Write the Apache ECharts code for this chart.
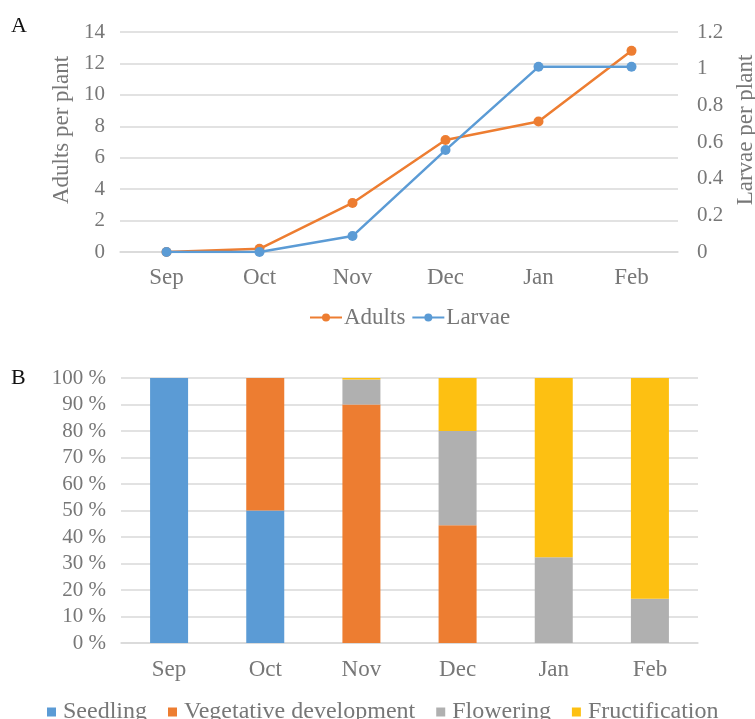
<!DOCTYPE html>
<html>
<head>
<meta charset="utf-8">
<script src="https://cdn.jsdelivr.net/npm/echarts@6/dist/echarts.min.js"></script>
<style>
  html, body { margin: 0; padding: 0; background: #fff; }
  #chart { width: 755px; height: 719px; }
</style>
</head>
<body>
<div id="chart"></div>
<script>
// Months sampled
const months = ['Sep', 'Oct', 'Nov', 'Dec', 'Jan', 'Feb'];

// Panel A: insect density per plant
const adults = [0, 0.2, 3.12, 7.13, 8.3, 12.8];
const larvae = [0, 0, 0.087, 0.556, 1.01, 1.01];

// Panel B: share of plants in each phenological stage (%)
const seedling   = [100, 50, 0, 0, 0, 0];
const vegetative = [0, 50, 90, 44.4, 0, 0];
const flowering  = [0, 0, 9.4, 35.6, 32.4, 16.7];
const fruiting   = [0, 0, 0.6, 20, 67.6, 83.3];

const FONT = 'Liberation Serif';
const TXT = '#777777';
const GRID = '#d9d9d9';
const ORANGE = '#ED7D31', BLUE = '#5B9BD5', GRAY = '#B0B0B0', YELLOW = '#FDC012';

const chart = echarts.init(document.getElementById('chart'), null, { renderer: 'canvas' });

const lineSeries = (name, data, yIdx, color) => ({
  name, type: 'line', data,
  xAxisIndex: 0, yAxisIndex: yIdx,
  symbol: 'circle', symbolSize: 10,
  lineStyle: { color, width: 2.5 },
  itemStyle: { color },
  z: yIdx === 1 ? 3 : 2
});

const barSeries = (name, data, color) => ({
  name, type: 'bar', stack: 'stage', data,
  xAxisIndex: 1, yAxisIndex: 2,
  barWidth: 38,
  itemStyle: { color }
});

chart.setOption({
  animation: false,
  textStyle: { fontFamily: FONT, color: TXT },
  graphic: [
    { type: 'text', left: 11, top: 15, style: { text: 'A', font: '22px "Liberation Serif"', fill: '#111' } },
    { type: 'text', left: 11, top: 367, style: { text: 'B', font: '22px "Liberation Serif"', fill: '#111' } }
  ],
  legend: [
    {
      data: ['Adults', 'Larvae'],
      left: 304, top: 301,
      itemWidth: 32, itemHeight: 10, itemGap: 6,
      textStyle: { fontFamily: FONT, fontSize: 23, color: TXT, padding: [0, 0, 0, -3] }
    },
    {
      data: ['Seedling', 'Vegetative development', 'Flowering', 'Fructification'],
      left: 42, top: 695,
      icon: 'rect', itemWidth: 9, itemHeight: 9, itemGap: 21,
      textStyle: { fontFamily: FONT, fontSize: 24, color: TXT, padding: [0, 0, 0, 2] }
    }
  ],
  grid: [
    { left: 120, right: 77, top: 32, height: 220, outerBoundsMode: 'none' },
    { left: 121, right: 57, top: 378, height: 265, outerBoundsMode: 'none' }
  ],
  xAxis: [
    {
      type: 'category', data: months, gridIndex: 0,
      axisLine: { lineStyle: { color: GRID, width: 1.5 } },
      axisTick: { show: false },
      axisLabel: { fontFamily: FONT, fontSize: 23, color: TXT, margin: 14 }
    },
    {
      type: 'category', data: months, gridIndex: 1,
      axisLine: { lineStyle: { color: GRID, width: 1.5 } },
      axisTick: { show: false },
      axisLabel: { fontFamily: FONT, fontSize: 23, color: TXT, margin: 15 }
    }
  ],
  yAxis: [
    {
      type: 'value', gridIndex: 0, position: 'left',
      min: 0, max: 14, interval: 2,
      name: 'Adults per plant', nameLocation: 'middle', nameRotate: 90, nameGap: 40,
      nameTextStyle: { fontFamily: FONT, fontSize: 23, color: TXT, padding: [0, 0, 0, 24] },
      axisLine: { show: false }, axisTick: { show: false },
      axisLabel: { fontFamily: FONT, fontSize: 21, color: TXT, margin: 15 },
      splitLine: { lineStyle: { color: GRID, width: 1.5 } }
    },
    {
      type: 'value', gridIndex: 0, position: 'right',
      min: 0, max: 1.2, interval: 0.2,
      name: 'Larvae per plant', nameLocation: 'middle', nameRotate: 90, nameGap: 52,
      nameTextStyle: { fontFamily: FONT, fontSize: 23, color: TXT, padding: [0, 0, 0, 24] },
      axisLine: { show: false }, axisTick: { show: false },
      axisLabel: { fontFamily: FONT, fontSize: 21, color: TXT, margin: 19 },
      splitLine: { show: false }
    },
    {
      type: 'value', gridIndex: 1,
      min: 0, max: 100, interval: 10,
      axisLine: { show: false }, axisTick: { show: false },
      axisLabel: { fontFamily: FONT, fontSize: 21, color: TXT, margin: 15, formatter: '{value} %' },
      splitLine: { lineStyle: { color: GRID, width: 1.5 } }
    }
  ],
  series: [
    lineSeries('Adults', adults, 0, ORANGE),
    lineSeries('Larvae', larvae, 1, BLUE),
    barSeries('Seedling', seedling, BLUE),
    barSeries('Vegetative development', vegetative, ORANGE),
    barSeries('Flowering', flowering, GRAY),
    barSeries('Fructification', fruiting, YELLOW)
  ]
});
</script>
</body>
</html>
